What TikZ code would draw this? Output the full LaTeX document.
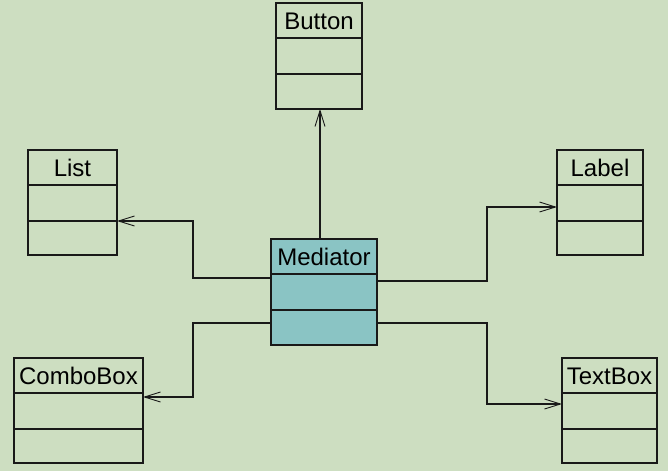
\documentclass[tikz,border=0pt]{standalone}
\usepackage{fontspec}
\setmainfont{Liberation Sans}
\usetikzlibrary{arrows.meta}
\definecolor{bg}{RGB}{205,222,193}
\definecolor{medfill}{RGB}{138,196,196}
\definecolor{ln}{RGB}{25,25,25}
\tikzset{
  cls/.style={draw=ln, line width=1.2pt, rectangle, inner sep=0pt, outer sep=0pt},
  ttl/.style={inner sep=0pt, font=\fontsize{24}{28}\selectfont, text=black},
  arr/.style={draw=ln, line width=1.1pt, -{Straight Barb[length=16pt,width=10pt,line width=0.9pt]}},
}
\newcommand{\umlclass}[7]{% name, cx, cy, w, h, title, fill
  \node[cls, fill=#7, minimum width=#4pt, minimum height=#5pt] (#1) at (#2,#3) {};
  \draw[ln, line width=1.2pt] ([yshift=-35pt]#1.north west) -- ([yshift=-35pt]#1.north east);
  \draw[ln, line width=1.2pt] ([yshift=-71pt]#1.north west) -- ([yshift=-71pt]#1.north east);
  \node[ttl] (#1t) at ([yshift=-18pt]#1.north) {#6};
}
\begin{document}
\begin{tikzpicture}[x=1pt,y=-1pt]
\path[fill=bg] (0,0) rectangle (668,471);
\useasboundingbox (0,0) rectangle (668,471);
\umlclass{med}{324}{292}{106}{106}{Mediator}{medfill}
\umlclass{but}{319}{56}{86}{106}{Button}{bg}
\umlclass{lst}{72.5}{202.5}{89}{105}{List}{bg}
\umlclass{lab}{600}{202.5}{86}{105}{Label}{bg}
\umlclass{cmb}{78.5}{410.5}{129}{105}{ComboBox}{bg}
\umlclass{txt}{609.5}{410.5}{95}{105}{TextBox}{bg}
% connectors
\draw[arr] (med.north -| 320,0) -- (but.south -| 320,0);
\draw[arr] (med.west |- 0,278) -| (193,250) |- (lst.east |- 0,221);
\draw[arr] (med.west |- 0,323) -| (193,360) |- (cmb.east |- 0,397);
\draw[arr] (med.east |- 0,281) -| (487,240) |- (lab.west |- 0,207);
\draw[arr] (med.east |- 0,323) -| (487,360) |- (txt.west |- 0,404);
\end{tikzpicture}
\end{document}
